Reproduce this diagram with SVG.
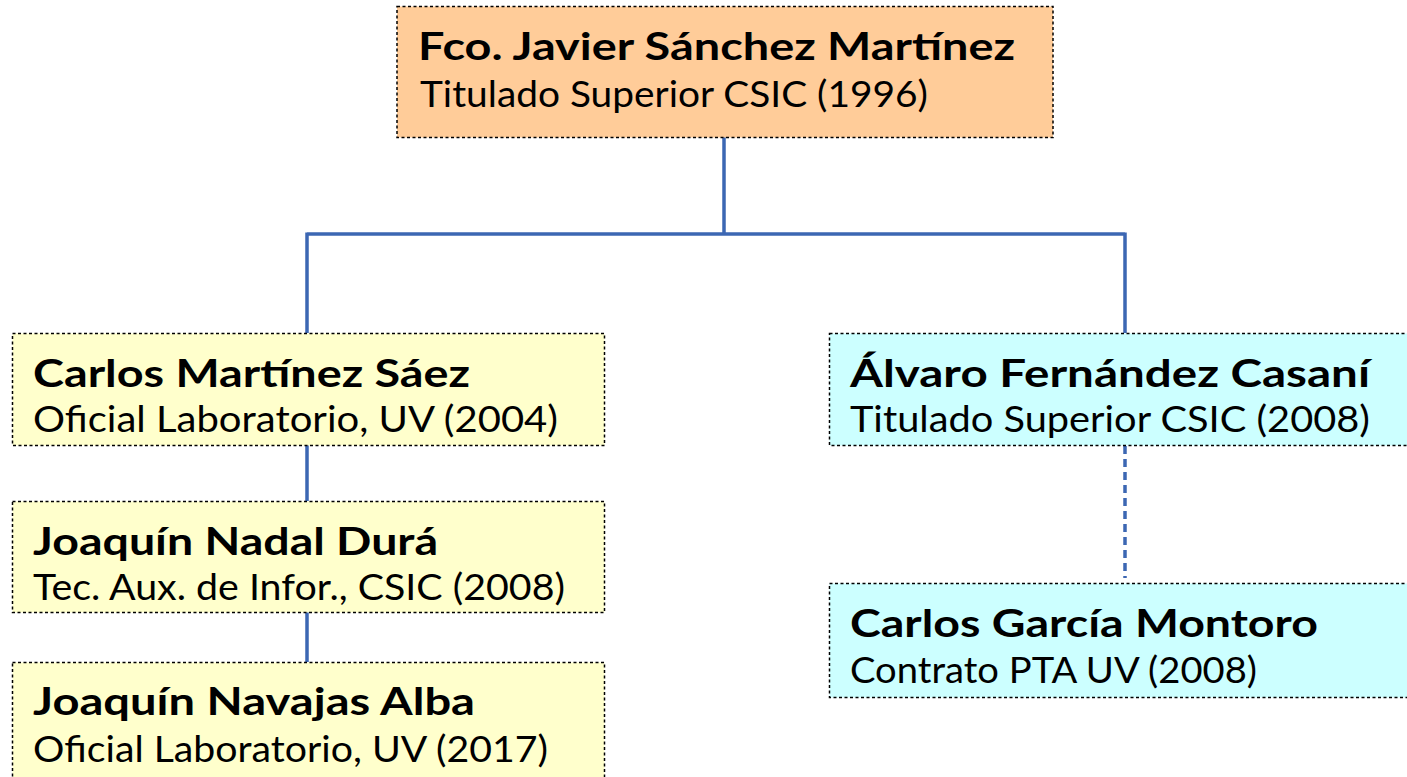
<svg xmlns="http://www.w3.org/2000/svg" width="1407" height="777" viewBox="0 0 1407 777">
<style>
.box{stroke:#000;stroke-width:1.5;stroke-dasharray:3 2.5}
.orange{fill:#FFCC99}
.yellow{fill:#FFFFCC}
.cyan{fill:#CCFFFF}
.h{font-family:Lato,"Liberation Sans",sans-serif;font-weight:bold;font-size:38px;fill:#000}
.s{font-family:Lato,"Liberation Sans",sans-serif;font-size:36px;fill:#000}
.c{fill:none;stroke:#3C67B3;stroke-width:3.5}
.d{stroke-dasharray:8 5}
</style>
<rect width="1407" height="777" fill="#fff"/>
<g id="connectors">
<path class="c" d="M724,137 V234 M307,234 H1125 M307,232.5 V333 M1125,232.5 V333 M307,445 V501 M307,612 V662"/>
<path class="c d" d="M1125,446 V578"/>
</g>
<g id="n-fco">
<rect class="box orange" x="397" y="6.5" width="656" height="131"/>
<text class="h" x="418" y="60" textLength="597" lengthAdjust="spacingAndGlyphs">Fco. Javier Sánchez Martínez</text>
<text class="s" x="420" y="107" textLength="508" lengthAdjust="spacingAndGlyphs">Titulado Superior CSIC (1996)</text>
</g>
<g id="n-carlos-m">
<rect class="box yellow" x="12.5" y="333.5" width="592" height="112"/>
<text class="h" x="33" y="387" textLength="437" lengthAdjust="spacingAndGlyphs">Carlos Martínez Sáez</text>
<text class="s" x="33" y="432" textLength="525" lengthAdjust="spacingAndGlyphs">Oficial Laboratorio, UV (2004)</text>
</g>
<g id="n-joaquin-nadal">
<rect class="box yellow" x="12.5" y="501.5" width="592" height="111"/>
<text class="h" x="33" y="555" textLength="405" lengthAdjust="spacingAndGlyphs">Joaquín Nadal Durá</text>
<text class="s" x="33" y="600" textLength="532" lengthAdjust="spacingAndGlyphs">Tec. Aux. de Infor., CSIC (2008)</text>
</g>
<g id="n-joaquin-navajas">
<rect class="box yellow" x="12.5" y="662.5" width="592" height="125"/>
<text class="h" x="33" y="715" textLength="442" lengthAdjust="spacingAndGlyphs">Joaquín Navajas Alba</text>
<text class="s" x="33" y="762" textLength="515" lengthAdjust="spacingAndGlyphs">Oficial Laboratorio, UV (2017)</text>
</g>
<g id="n-alvaro">
<rect class="box cyan" x="829.5" y="333.5" width="590" height="112"/>
<text class="h" x="850" y="387" textLength="520" lengthAdjust="spacingAndGlyphs">Álvaro Fernández Casaní</text>
<text class="s" x="850" y="432" textLength="520" lengthAdjust="spacingAndGlyphs">Titulado Superior CSIC (2008)</text>
</g>
<g id="n-carlos-g">
<rect class="box cyan" x="829.5" y="583.5" width="590" height="114"/>
<text class="h" x="850" y="637" textLength="468" lengthAdjust="spacingAndGlyphs">Carlos García Montoro</text>
<text class="s" x="850" y="683" textLength="407" lengthAdjust="spacingAndGlyphs">Contrato PTA UV (2008)</text>
</g>
</svg>
